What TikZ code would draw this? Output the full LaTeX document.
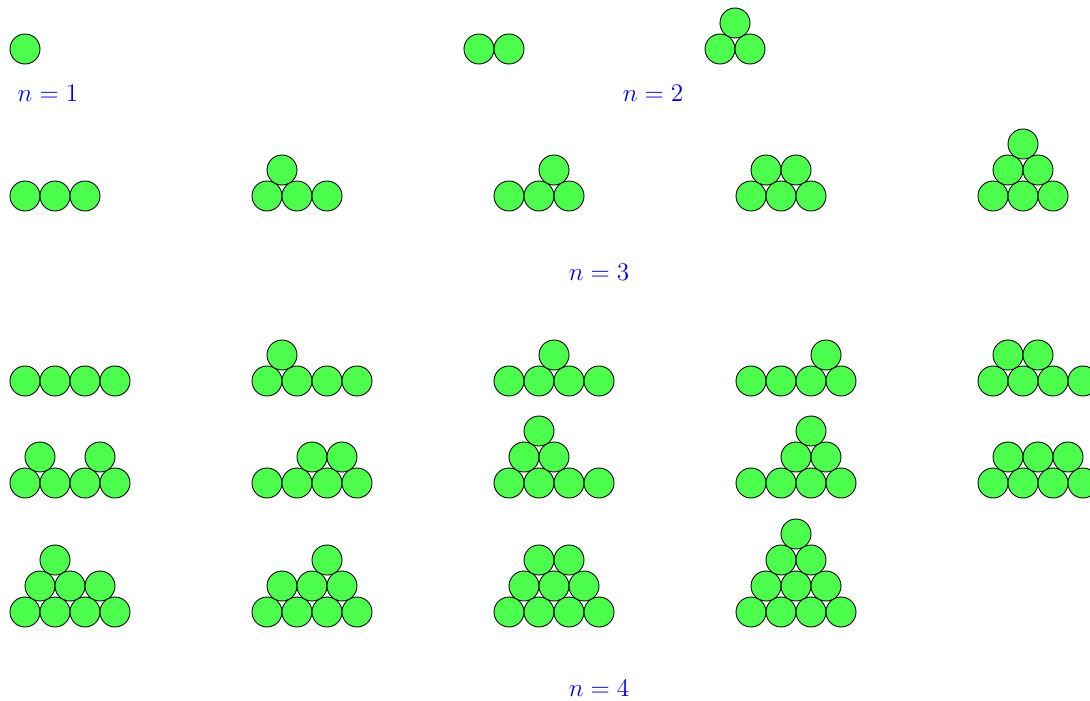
\documentclass[tikz,border=0pt]{standalone}
\usepackage{amsmath,amssymb}
\usepackage{tikz}
\usepackage{xcolor}
\usetikzlibrary{positioning}

\begin{document}
\begin{tikzpicture}[
    coin/.style={circle, draw, line width=0.5pt, fill=green!70, minimum size=0.6cm, inner sep=0pt},
    lbl/.style={text=blue, font=\fontsize{15}{18}\selectfont}
]
\useasboundingbox (0,0) rectangle (21.8,-14);
\clip (0,0) rectangle (21.8,-14);
% n = 1
\begin{scope}[shift={(0.5,-0.98)}]
\node[coin] (s1) at (0,0) {};
\end{scope}
\node[lbl] (n1) at (0.96,-1.86) {$n=1$};
% n = 2
\begin{scope}[shift={(9.58,-0.98)}]
\foreach \c/\r [count=\k] in {0/0,1/0} \node[coin] (d1-\k) at (0.6*\c,0.52*\r) {};
\end{scope}
\begin{scope}[shift={(14.4,-0.98)}]
\foreach \c/\r [count=\k] in {0/0,1/0,0.5/1} \node[coin] (d2-\k) at (0.6*\c,0.52*\r) {};
\end{scope}
\node[lbl] (n2) at (13.06,-1.86) {$n=2$};
% n = 3
\begin{scope}[shift={(0.5,-3.92)}]
\foreach \c/\r [count=\k] in {0/0,1/0,2/0} \node[coin] (t1-\k) at (0.6*\c,0.52*\r) {};
\end{scope}
\begin{scope}[shift={(5.34,-3.92)}]
\foreach \c/\r [count=\k] in {0/0,1/0,2/0,0.5/1} \node[coin] (t2-\k) at (0.6*\c,0.52*\r) {};
\end{scope}
\begin{scope}[shift={(10.18,-3.92)}]
\foreach \c/\r [count=\k] in {0/0,1/0,2/0,1.5/1} \node[coin] (t3-\k) at (0.6*\c,0.52*\r) {};
\end{scope}
\begin{scope}[shift={(15.02,-3.92)}]
\foreach \c/\r [count=\k] in {0/0,1/0,2/0,0.5/1,1.5/1} \node[coin] (t4-\k) at (0.6*\c,0.52*\r) {};
\end{scope}
\begin{scope}[shift={(19.86,-3.92)}]
\foreach \c/\r [count=\k] in {0/0,1/0,2/0,0.5/1,1.5/1,1/2} \node[coin] (t5-\k) at (0.6*\c,0.52*\r) {};
\end{scope}
\node[lbl] (n3) at (11.98,-5.44) {$n=3$};
% n = 4, first row
\begin{scope}[shift={(0.5,-7.62)}]
\foreach \c/\r [count=\k] in {0/0,1/0,2/0,3/0} \node[coin] (qa1-\k) at (0.6*\c,0.52*\r) {};
\end{scope}
\begin{scope}[shift={(5.34,-7.62)}]
\foreach \c/\r [count=\k] in {0/0,1/0,2/0,3/0,0.5/1} \node[coin] (qa2-\k) at (0.6*\c,0.52*\r) {};
\end{scope}
\begin{scope}[shift={(10.18,-7.62)}]
\foreach \c/\r [count=\k] in {0/0,1/0,2/0,3/0,1.5/1} \node[coin] (qa3-\k) at (0.6*\c,0.52*\r) {};
\end{scope}
\begin{scope}[shift={(15.02,-7.62)}]
\foreach \c/\r [count=\k] in {0/0,1/0,2/0,3/0,2.5/1} \node[coin] (qa4-\k) at (0.6*\c,0.52*\r) {};
\end{scope}
\begin{scope}[shift={(19.86,-7.62)}]
\foreach \c/\r [count=\k] in {0/0,1/0,2/0,3/0,0.5/1,1.5/1} \node[coin] (qa5-\k) at (0.6*\c,0.52*\r) {};
\end{scope}
% n = 4, second row
\begin{scope}[shift={(0.5,-9.66)}]
\foreach \c/\r [count=\k] in {0/0,1/0,2/0,3/0,0.5/1,2.5/1} \node[coin] (qb1-\k) at (0.6*\c,0.52*\r) {};
\end{scope}
\begin{scope}[shift={(5.34,-9.66)}]
\foreach \c/\r [count=\k] in {0/0,1/0,2/0,3/0,1.5/1,2.5/1} \node[coin] (qb2-\k) at (0.6*\c,0.52*\r) {};
\end{scope}
\begin{scope}[shift={(10.18,-9.66)}]
\foreach \c/\r [count=\k] in {0/0,1/0,2/0,3/0,0.5/1,1.5/1,1/2} \node[coin] (qb3-\k) at (0.6*\c,0.52*\r) {};
\end{scope}
\begin{scope}[shift={(15.02,-9.66)}]
\foreach \c/\r [count=\k] in {0/0,1/0,2/0,3/0,1.5/1,2.5/1,2/2} \node[coin] (qb4-\k) at (0.6*\c,0.52*\r) {};
\end{scope}
\begin{scope}[shift={(19.86,-9.66)}]
\foreach \c/\r [count=\k] in {0/0,1/0,2/0,3/0,0.5/1,1.5/1,2.5/1} \node[coin] (qb5-\k) at (0.6*\c,0.52*\r) {};
\end{scope}
% n = 4, third row
\begin{scope}[shift={(0.5,-12.24)}]
\foreach \c/\r [count=\k] in {0/0,1/0,2/0,3/0,0.5/1,1.5/1,2.5/1,1/2} \node[coin] (qc1-\k) at (0.6*\c,0.52*\r) {};
\end{scope}
\begin{scope}[shift={(5.34,-12.24)}]
\foreach \c/\r [count=\k] in {0/0,1/0,2/0,3/0,0.5/1,1.5/1,2.5/1,2/2} \node[coin] (qc2-\k) at (0.6*\c,0.52*\r) {};
\end{scope}
\begin{scope}[shift={(10.18,-12.24)}]
\foreach \c/\r [count=\k] in {0/0,1/0,2/0,3/0,0.5/1,1.5/1,2.5/1,1/2,2/2} \node[coin] (qc3-\k) at (0.6*\c,0.52*\r) {};
\end{scope}
\begin{scope}[shift={(15.02,-12.24)}]
\foreach \c/\r [count=\k] in {0/0,1/0,2/0,3/0,0.5/1,1.5/1,2.5/1,1/2,2/2,1.5/3} \node[coin] (qc4-\k) at (0.6*\c,0.52*\r) {};
\end{scope}
\node[lbl] (n4) at (11.98,-13.76) {$n=4$};
\end{tikzpicture}
\end{document}
